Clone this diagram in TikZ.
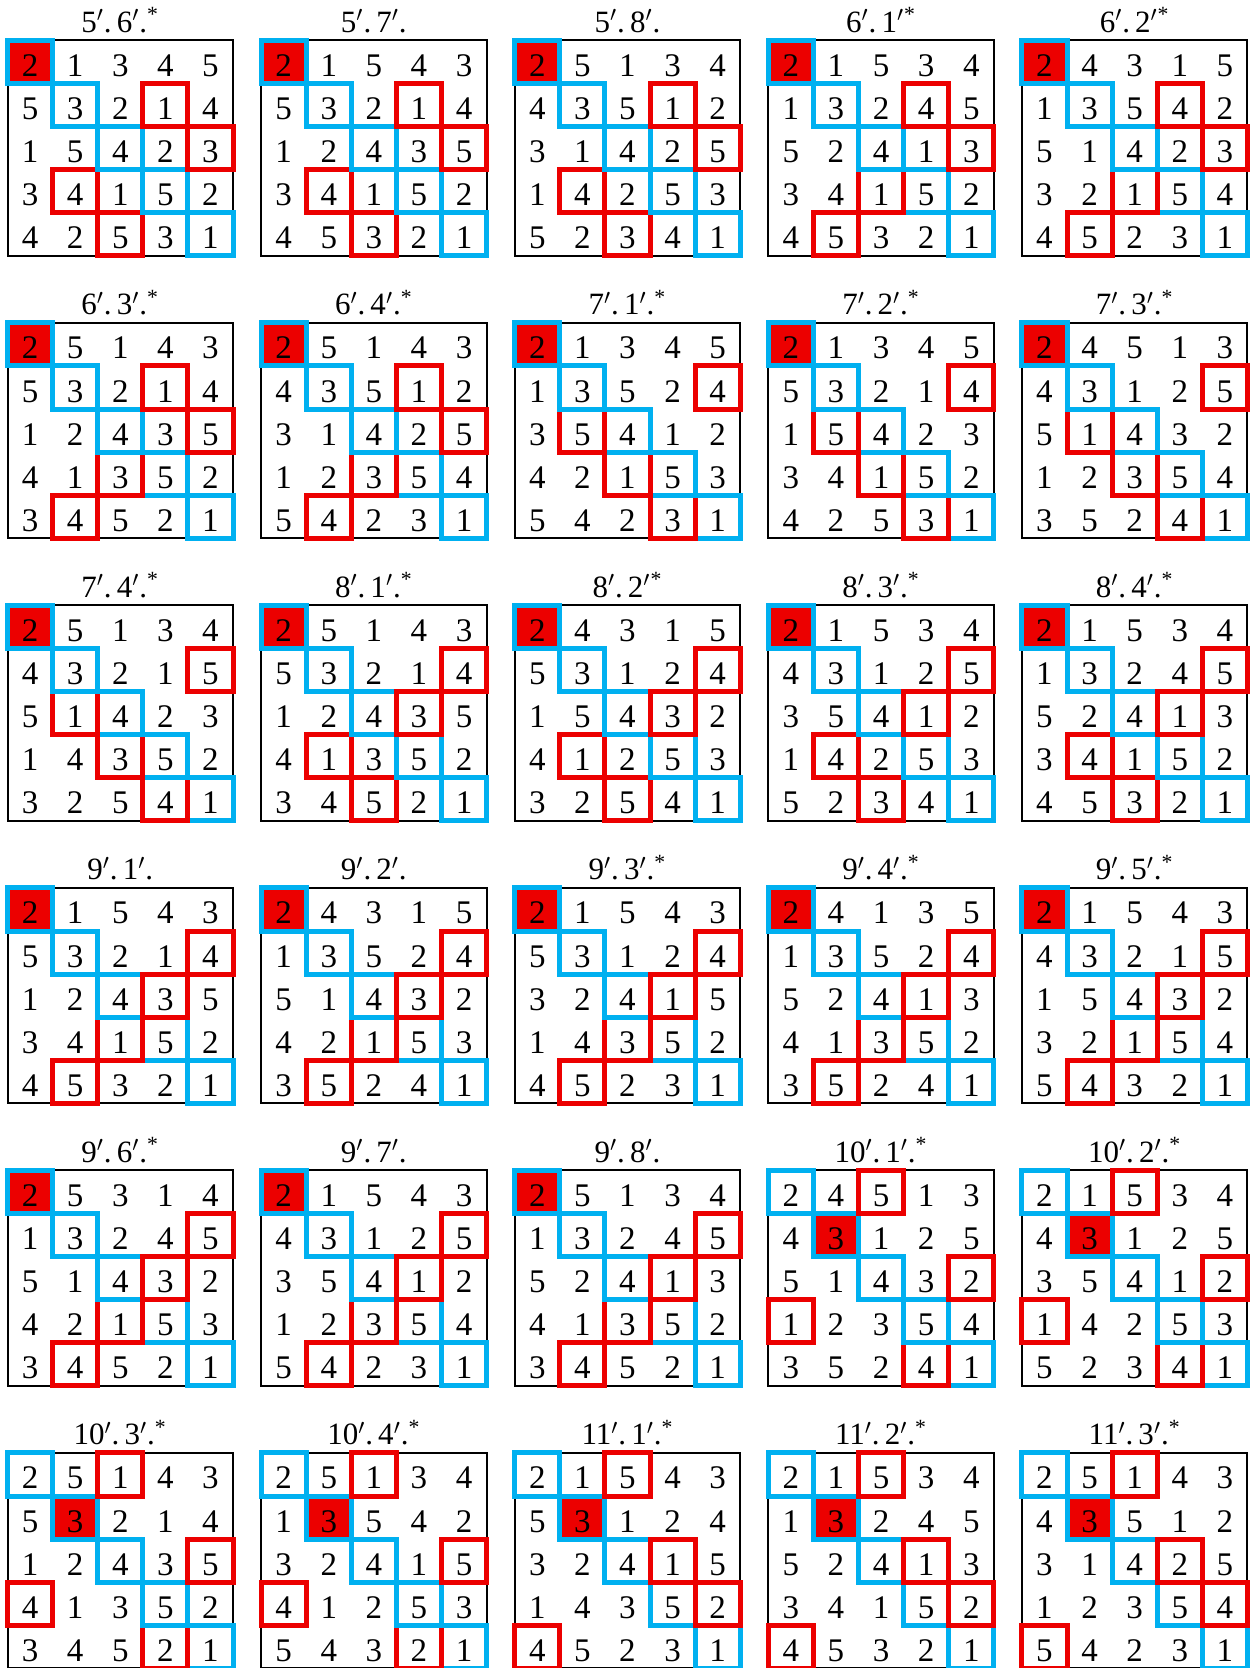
\documentclass[tikz,border=0pt]{standalone}
\usepackage{fontspec}
\setmainfont{Liberation Serif}
\usepackage{tikz}
\definecolor{cellred}{RGB}{236,0,0}
\definecolor{cellblue}{RGB}{0,176,240}
\tikzset{
	cellnum/.style={font=\fontsize{16.5}{18}\selectfont, anchor=base, inner sep=0pt},
	sqtitle/.style={font=\fontsize{15.5}{17}\selectfont, anchor=base, inner sep=0pt},
	sqframe/.style={draw=black, line width=1pt},
	bluecell/.style={draw=cellblue, line width=2.5pt},
	redcell/.style={draw=cellred, line width=2.5pt},
	hitcell/.style={fill=cellred}
}
\newcommand{\prm}{$'$}
\newcommand{\mrk}{\textsuperscript{*}}
\newcommand{\latsq}[6]{
	\begin{scope}[shift={(#2,#3)}]
		\foreach \ri in {4,3,2,1,0} {
			\pgfmathtruncatemacro{\redc}{{#6}[\ri]}
			\ifnum\redc=\ri\relax
				\fill[hitcell] ({\ri*45.1},{\ri*43.1}) rectangle ++(45.1,43.1);
			\fi
		}
		\draw[sqframe] (0,0) rectangle (225.5,215.5);
		\node[sqtitle] (#1-t) at (112.75,-8) {#4};
		\foreach \rw [count=\ri from 0] in {#5} {
			\foreach \vv [count=\ci from 0] in \rw
				\node[cellnum] (#1-\ri-\ci) at ({(\ci+0.5)*45.1},{(\ri+0.5)*43.1+14.5}) {\vv};
		}
		\foreach \ri in {4,3,2,1,0} {
			\pgfmathtruncatemacro{\redc}{{#6}[\ri]}
			\draw[bluecell] ({\ri*45.1},{\ri*43.1}) rectangle ++(45.1,43.1);
			\ifnum\redc=\ri\relax\else
				\draw[redcell] ({\redc*45.1},{\ri*43.1}) rectangle ++(45.1,43.1);
			\fi
		}
	\end{scope}
}

\begin{document}
\begin{tikzpicture}[x=0.5pt,y=-0.5pt]
	\useasboundingbox (0,0) rectangle (1257,1668);

	\latsq{s1}{7.5}{40.4}{5\prm.\,6\prm.\mrk}{{2,1,3,4,5},{5,3,2,1,4},{1,5,4,2,3},{3,4,1,5,2},{4,2,5,3,1}}{0,3,4,1,2}
	\latsq{s2}{261.1}{40.4}{5\prm.\,7\prm.}{{2,1,5,4,3},{5,3,2,1,4},{1,2,4,3,5},{3,4,1,5,2},{4,5,3,2,1}}{0,3,4,1,2}
	\latsq{s3}{514.7}{40.4}{5\prm.\,8\prm.}{{2,5,1,3,4},{4,3,5,1,2},{3,1,4,2,5},{1,4,2,5,3},{5,2,3,4,1}}{0,3,4,1,2}
	\latsq{s4}{768.3}{40.4}{6\prm.\,1\prm\mrk}{{2,1,5,3,4},{1,3,2,4,5},{5,2,4,1,3},{3,4,1,5,2},{4,5,3,2,1}}{0,3,4,2,1}
	\latsq{s5}{1021.9}{40.4}{6\prm.\,2\prm\mrk}{{2,4,3,1,5},{1,3,5,4,2},{5,1,4,2,3},{3,2,1,5,4},{4,5,2,3,1}}{0,3,4,2,1}

	\latsq{s6}{7.5}{322.9}{6\prm.\,3\prm.\mrk}{{2,5,1,4,3},{5,3,2,1,4},{1,2,4,3,5},{4,1,3,5,2},{3,4,5,2,1}}{0,3,4,2,1}
	\latsq{s7}{261.1}{322.9}{6\prm.\,4\prm.\mrk}{{2,5,1,4,3},{4,3,5,1,2},{3,1,4,2,5},{1,2,3,5,4},{5,4,2,3,1}}{0,3,4,2,1}
	\latsq{s8}{514.7}{322.9}{7\prm.\,1\prm.\mrk}{{2,1,3,4,5},{1,3,5,2,4},{3,5,4,1,2},{4,2,1,5,3},{5,4,2,3,1}}{0,4,1,2,3}
	\latsq{s9}{768.3}{322.9}{7\prm.\,2\prm.\mrk}{{2,1,3,4,5},{5,3,2,1,4},{1,5,4,2,3},{3,4,1,5,2},{4,2,5,3,1}}{0,4,1,2,3}
	\latsq{s10}{1021.9}{322.9}{7\prm.\,3\prm.\mrk}{{2,4,5,1,3},{4,3,1,2,5},{5,1,4,3,2},{1,2,3,5,4},{3,5,2,4,1}}{0,4,1,2,3}

	\latsq{s11}{7.5}{605.4}{7\prm.\,4\prm.\mrk}{{2,5,1,3,4},{4,3,2,1,5},{5,1,4,2,3},{1,4,3,5,2},{3,2,5,4,1}}{0,4,1,2,3}
	\latsq{s12}{261.1}{605.4}{8\prm.\,1\prm.\mrk}{{2,5,1,4,3},{5,3,2,1,4},{1,2,4,3,5},{4,1,3,5,2},{3,4,5,2,1}}{0,4,3,1,2}
	\latsq{s13}{514.7}{605.4}{8\prm.\,2\prm\mrk}{{2,4,3,1,5},{5,3,1,2,4},{1,5,4,3,2},{4,1,2,5,3},{3,2,5,4,1}}{0,4,3,1,2}
	\latsq{s14}{768.3}{605.4}{8\prm.\,3\prm.\mrk}{{2,1,5,3,4},{4,3,1,2,5},{3,5,4,1,2},{1,4,2,5,3},{5,2,3,4,1}}{0,4,3,1,2}
	\latsq{s15}{1021.9}{605.4}{8\prm.\,4\prm.\mrk}{{2,1,5,3,4},{1,3,2,4,5},{5,2,4,1,3},{3,4,1,5,2},{4,5,3,2,1}}{0,4,3,1,2}

	\latsq{s16}{7.5}{887.9}{9\prm.\,1\prm.}{{2,1,5,4,3},{5,3,2,1,4},{1,2,4,3,5},{3,4,1,5,2},{4,5,3,2,1}}{0,4,3,2,1}
	\latsq{s17}{261.1}{887.9}{9\prm.\,2\prm.}{{2,4,3,1,5},{1,3,5,2,4},{5,1,4,3,2},{4,2,1,5,3},{3,5,2,4,1}}{0,4,3,2,1}
	\latsq{s18}{514.7}{887.9}{9\prm.\,3\prm.\mrk}{{2,1,5,4,3},{5,3,1,2,4},{3,2,4,1,5},{1,4,3,5,2},{4,5,2,3,1}}{0,4,3,2,1}
	\latsq{s19}{768.3}{887.9}{9\prm.\,4\prm.\mrk}{{2,4,1,3,5},{1,3,5,2,4},{5,2,4,1,3},{4,1,3,5,2},{3,5,2,4,1}}{0,4,3,2,1}
	\latsq{s20}{1021.9}{887.9}{9\prm.\,5\prm.\mrk}{{2,1,5,4,3},{4,3,2,1,5},{1,5,4,3,2},{3,2,1,5,4},{5,4,3,2,1}}{0,4,3,2,1}

	\latsq{s21}{7.5}{1170.4}{9\prm.\,6\prm.\mrk}{{2,5,3,1,4},{1,3,2,4,5},{5,1,4,3,2},{4,2,1,5,3},{3,4,5,2,1}}{0,4,3,2,1}
	\latsq{s22}{261.1}{1170.4}{9\prm.\,7\prm.}{{2,1,5,4,3},{4,3,1,2,5},{3,5,4,1,2},{1,2,3,5,4},{5,4,2,3,1}}{0,4,3,2,1}
	\latsq{s23}{514.7}{1170.4}{9\prm.\,8\prm.}{{2,5,1,3,4},{1,3,2,4,5},{5,2,4,1,3},{4,1,3,5,2},{3,4,5,2,1}}{0,4,3,2,1}
	\latsq{s24}{768.3}{1170.4}{10\prm.\,1\prm.\mrk}{{2,4,5,1,3},{4,3,1,2,5},{5,1,4,3,2},{1,2,3,5,4},{3,5,2,4,1}}{2,1,4,0,3}
	\latsq{s25}{1021.9}{1170.4}{10\prm.\,2\prm.\mrk}{{2,1,5,3,4},{4,3,1,2,5},{3,5,4,1,2},{1,4,2,5,3},{5,2,3,4,1}}{2,1,4,0,3}

	\latsq{s26}{7.5}{1452.9}{10\prm.\,3\prm.\mrk}{{2,5,1,4,3},{5,3,2,1,4},{1,2,4,3,5},{4,1,3,5,2},{3,4,5,2,1}}{2,1,4,0,3}
	\latsq{s27}{261.1}{1452.9}{10\prm.\,4\prm.\mrk}{{2,5,1,3,4},{1,3,5,4,2},{3,2,4,1,5},{4,1,2,5,3},{5,4,3,2,1}}{2,1,4,0,3}
	\latsq{s28}{514.7}{1452.9}{11\prm.\,1\prm.\mrk}{{2,1,5,4,3},{5,3,1,2,4},{3,2,4,1,5},{1,4,3,5,2},{4,5,2,3,1}}{2,1,3,4,0}
	\latsq{s29}{768.3}{1452.9}{11\prm.\,2\prm.\mrk}{{2,1,5,3,4},{1,3,2,4,5},{5,2,4,1,3},{3,4,1,5,2},{4,5,3,2,1}}{2,1,3,4,0}
	\latsq{s30}{1021.9}{1452.9}{11\prm.\,3\prm.\mrk}{{2,5,1,4,3},{4,3,5,1,2},{3,1,4,2,5},{1,2,3,5,4},{5,4,2,3,1}}{2,1,3,4,0}
\end{tikzpicture}
\end{document}
